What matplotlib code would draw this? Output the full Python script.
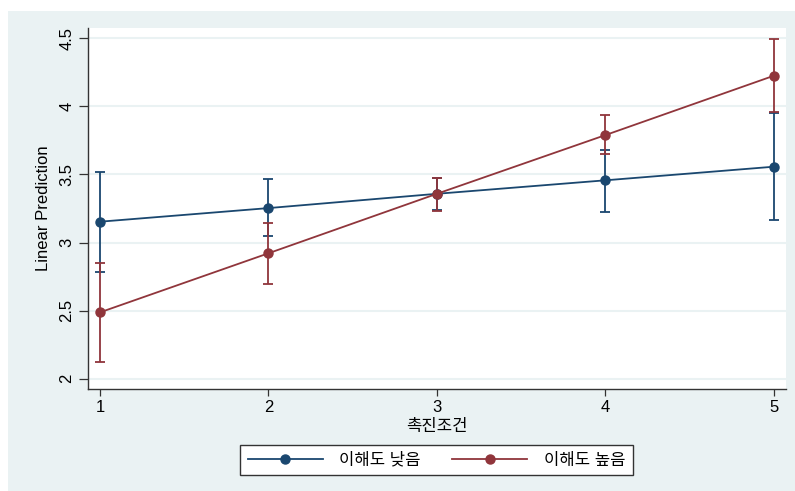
import matplotlib
matplotlib.use("Agg")
import matplotlib.pyplot as plt
from matplotlib.patches import Rectangle

plt.rcParams['font.family'] = ['Liberation Sans', 'Noto Sans CJK KR', 'DejaVu Sans']

x = [1, 2, 3, 4, 5]
xticks = [1, 2, 3, 4, 5]
yticks = [2, 2.5, 3, 3.5, 4, 4.5]
ytick_labels = ["2", "2.5", "3", "3.5", "4", "4.5"]

low_label = "이해도 낮음"
low_mean = [3.153, 3.253, 3.358, 3.457, 3.557]
low_lo = [2.783, 3.048, 3.236, 3.226, 3.168]
low_hi = [3.518, 3.464, 3.472, 3.682, 3.951]

high_label = "이해도 높음"
high_mean = [2.487, 2.921, 3.358, 3.789, 4.225]
high_lo = [2.125, 2.695, 3.234, 3.648, 3.956]
high_hi = [2.852, 3.145, 3.476, 3.934, 4.492]

xlabel = "촉진조건"
ylabel = "Linear Prediction"

BG = "#EAF2F3"
BLUE = "#1A476F"
RED = "#90353B"

W, H = 795, 491
fig = plt.figure(figsize=(W / 100, H / 100), dpi=100, facecolor="white")
fig.patches.append(Rectangle((8 / W, 0), 1 - 8 / W, 1 - 11 / H, transform=fig.transFigure,
                             facecolor=BG, edgecolor="none", zorder=-10))

ax = fig.add_axes([87.7 / W, 1 - 389 / H, (786 - 87.7) / W, (389 - 28) / H])
ax.set_facecolor("white")

for mean, lo, hi, col, lab in [(low_mean, low_lo, low_hi, BLUE, low_label),
                               (high_mean, high_lo, high_hi, RED, high_label)]:
    err = [[m - l for m, l in zip(mean, lo)], [h - m for m, h in zip(mean, hi)]]
    ax.errorbar(x, mean, yerr=err, fmt="none", ecolor=col, elinewidth=1.3,
                capsize=3.8, capthick=1.3, zorder=3)
    ax.plot(x, mean, color=col, lw=1.3, marker="o", markersize=6.5, label=lab, zorder=4)

ax.set_xlim(0.927, 5.073)
ax.set_ylim(1.924, 4.576)
ax.set_xticks(xticks)
ax.set_xticklabels([str(t) for t in xticks], fontsize=12)
ax.set_yticks(yticks)
ax.set_yticklabels(ytick_labels, fontsize=12, rotation=90, va="center")
ax.yaxis.grid(True, color=BG, lw=1.5, zorder=0)
ax.set_axisbelow(True)
for s in ["top", "right"]:
    ax.spines[s].set_visible(False)
for s in ["left", "bottom"]:
    ax.spines[s].set_color("#333333")
    ax.spines[s].set_linewidth(1.0)
ax.tick_params(axis="y", length=6.5, width=0.9, color="#333333", pad=3)
ax.tick_params(axis="x", length=5, width=0.9, color="#333333", pad=3)

ax.set_xlabel(xlabel, fontsize=12, labelpad=3)
ax.set_ylabel(ylabel, fontsize=12, labelpad=6)

leg = fig.legend(loc="center", bbox_to_anchor=(436.5 / W, 1 - 460 / H), ncol=2,
                 frameon=True, fancybox=False, edgecolor="#333333", fontsize=12,
                 handlelength=4.5, columnspacing=1.9, handletextpad=1.0,
                 borderpad=0.45, framealpha=1)
leg.get_frame().set_linewidth(1.0)

fig.savefig("out.png", dpi=100, facecolor="white")
